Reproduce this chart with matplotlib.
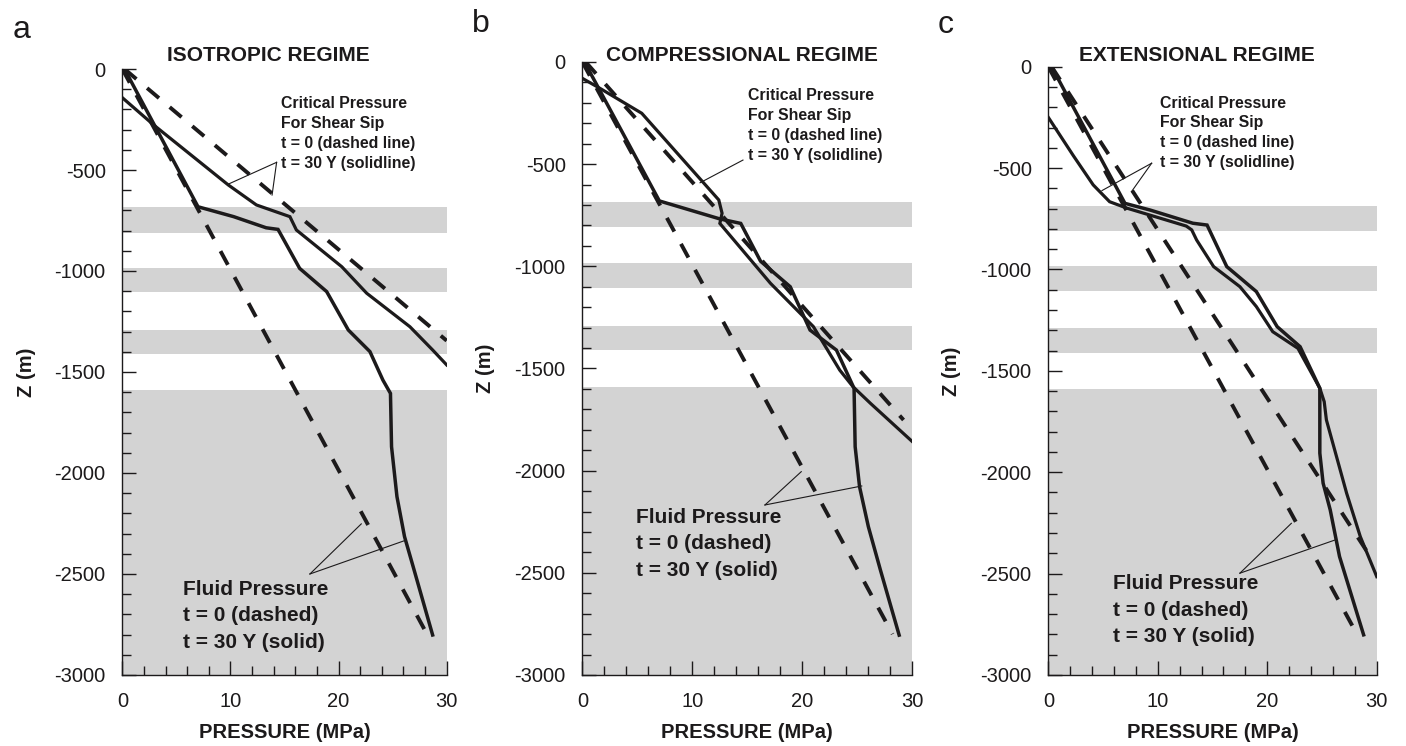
import matplotlib.pyplot as plt
from matplotlib.ticker import MultipleLocator

plt.rcParams['font.family'] = ['Liberation Sans', 'DejaVu Sans']
plt.rcParams['axes.unicode_minus'] = False

INK = '#1c1a1b'
BAND = '#d3d3d3'

# shaded layers (depth, m)
band_top = [-685, -985, -1290, -1590]
band_bot = [-810, -1105, -1410, -3000]

# fluid pressure, t = 0 (hydrostatic, same in all panels)
fluid_t0_p = [0.0, 28.2]
fluid_t0_z = [0, -2800]

# --- a: isotropic regime
a_fluid_p = [0.25, 7.0, 10.3, 13.3, 14.4, 16.4, 18.9, 20.9, 22.9, 24.1, 24.8, 24.9, 25.4, 26.1, 26.9, 28.7]
a_fluid_z = [-5, -682, -731, -786, -794, -987, -1102, -1292, -1399, -1540, -1606, -1870, -2117, -2315, -2464, -2802]
a_crit0_p = [0.2, 30.0]
a_crit0_z = [0, -1345]
a_crit_p = [0.0, 2.9, 9.8, 12.4, 15.5, 16.1, 20.3, 22.6, 26.6, 28.7, 30.0]
a_crit_z = [-142, -277, -574, -673, -731, -797, -979, -1110, -1276, -1391, -1465]

# --- b: compressional regime
b_fluid_p = [0.25, 7.0, 12.5, 14.4, 16.2, 18.9, 20.7, 23.1, 24.7, 24.8, 25.2, 26.0, 27.1, 28.8]
b_fluid_z = [-6, -680, -768, -790, -975, -1100, -1312, -1410, -1597, -1883, -2079, -2274, -2487, -2805]
b_crit0_p = [0.3, 29.2]
b_crit0_z = [0, -1752]
b_crit_p = [0.0, 1.6, 5.4, 12.4, 12.7, 12.5, 17.1, 21.0, 23.4, 24.6, 26.2, 30.0]
b_crit_z = [-80, -129, -251, -675, -740, -790, -1083, -1295, -1508, -1589, -1671, -1858]

# --- c: extensional regime
c_fluid_p = [0.3, 7.0, 9.3, 13.2, 14.5, 16.3, 18.1, 19.0, 20.9, 23.0, 24.8, 24.8, 25.1, 25.75, 26.6, 28.8]
c_fluid_z = [0, -674, -707, -772, -781, -986, -1068, -1109, -1282, -1381, -1586, -1906, -2054, -2186, -2416, -2802]
c_crit0_p = [0.3, 29.7]
c_crit0_z = [0, -2440]
c_crit_p = [0.0, 2.3, 4.1, 5.6, 7.2, 12.6, 13.1, 13.55, 15.1, 17.5, 19.0, 20.5, 22.8, 24.8, 25.2, 25.4, 27.25, 28.5, 30.0]
c_crit_z = [-250, -440, -583, -666, -698, -786, -805, -855, -986, -1085, -1183, -1307, -1389, -1586, -1652, -1742, -2104, -2318, -2515]

titles = ['ISOTROPIC REGIME', 'COMPRESSIONAL REGIME', 'EXTENSIONAL REGIME']
letters = ['a', 'b', 'c']
crit_label = 'Critical Pressure\nFor Shear Sip\nt = 0 (dashed line)\nt = 30 Y (solidline)'
fluid_label = 'Fluid Pressure\nt = 0 (dashed)\nt = 30 Y (solid)'

# label anchors (P, Z of the last line's baseline) and leader-line targets
crit_text_xy = [(14.67, -488), (15.1, -478), (10.2, -496)]
crit_leader_from = [(14.27, -462), (14.6, -480), (9.44, -476)]
crit_leader_to = [[(9.8, -570), (13.85, -624)], [(10.7, -591)], [(4.9, -611), (7.6, -616)]]
fluid_text_xy = [(5.58, -2864), (4.88, -2515), (5.88, -2839)]
fluid_leader_from = [(17.35, -2500), (16.6, -2168), (17.5, -2498)]
fluid_leader_to = [[(22.1, -2252), (26.1, -2335)], [(19.9, -2005), (25.4, -2075)], [(22.2, -2252), (26.2, -2334)]]

# layout (figure fractions) and title placement (axes fractions)
rects = [(0.0870, 0.0952, 0.2307, 0.8123),
         (0.4142, 0.0952, 0.2347, 0.8217),
         (0.7456, 0.0952, 0.2336, 0.8154)]
title_xy = [(0.450, 1.023), (0.484, 1.011), (0.453, 1.019)]
letter_xy = [(0.009, 0.949), (0.336, 0.957), (0.667, 0.956)]

series = [
    (a_fluid_p, a_fluid_z, a_crit0_p, a_crit0_z, a_crit_p, a_crit_z),
    (b_fluid_p, b_fluid_z, b_crit0_p, b_crit0_z, b_crit_p, b_crit_z),
    (c_fluid_p, c_fluid_z, c_crit0_p, c_crit0_z, c_crit_p, c_crit_z),
]

fig = plt.figure(figsize=(14.06, 7.46), dpi=100)

for i, (fp, fz, c0p, c0z, cp, cz) in enumerate(series):
    ax = fig.add_axes(rects[i])

    for top, bot in zip(band_top, band_bot):
        ax.axhspan(bot, top, color=BAND, lw=0, zorder=0)

    dash = (4.0, 3.6)
    ax.plot(fluid_t0_p, fluid_t0_z, color=INK, lw=2.8, dashes=dash)
    ax.plot(c0p, c0z, color=INK, lw=2.8, dashes=dash)
    ax.plot(fp, fz, color=INK, lw=2.5, solid_joinstyle='miter')
    ax.plot(cp, cz, color=INK, lw=2.3, solid_joinstyle='miter')

    # labels with leader lines
    x0, y0 = crit_leader_from[i]
    for x1, y1 in crit_leader_to[i]:
        ax.plot([x0, x1], [y0, y1], color=INK, lw=0.8)
    x0, y0 = fluid_leader_from[i]
    for x1, y1 in fluid_leader_to[i]:
        ax.plot([x0, x1], [y0, y1], color=INK, lw=0.8)

    ax.text(*crit_text_xy[i], crit_label, fontsize=11.4, fontweight='bold', color=INK,
            va='baseline', ha='left', linespacing=1.41)
    ax.text(*fluid_text_xy[i], fluid_label, fontsize=15, fontweight='bold', color=INK,
            va='baseline', ha='left', linespacing=1.5)

    ax.set_xlim(0, 30)
    ax.set_ylim(-3000, 0)
    ax.xaxis.set_major_locator(MultipleLocator(10))
    ax.xaxis.set_minor_locator(MultipleLocator(2))
    ax.yaxis.set_major_locator(MultipleLocator(500))
    ax.yaxis.set_minor_locator(MultipleLocator(100))
    ax.tick_params(which='both', direction='in', color=INK, width=1.0, labelsize=14.5, labelcolor=INK)
    ax.tick_params(which='major', length=10)
    ax.tick_params(which='minor', length=6.5)
    ax.tick_params(axis='y', pad=12)
    ax.tick_params(axis='x', pad=12)
    for side in ['top', 'right']:
        ax.spines[side].set_visible(False)
    for side in ['left', 'bottom']:
        ax.spines[side].set_linewidth(1.0)
        ax.spines[side].set_color(INK)

    ax.set_xlabel('PRESSURE (MPa)', fontsize=14.5, fontweight='bold', color=INK)
    ax.xaxis.set_label_coords(0.5, -0.079)
    ax.set_ylabel('Z (m)', fontsize=14.5, fontweight='bold', color=INK)
    ax.yaxis.set_label_coords(-0.265, 0.5)

    ax.text(*title_xy[i], titles[i], transform=ax.transAxes, fontsize=15, fontweight='bold',
            color=INK, ha='center', va='center')
    fig.text(*letter_xy[i], letters[i], fontsize=23, color=INK, ha='left', va='baseline')

fig.savefig('out.png', dpi=100)
